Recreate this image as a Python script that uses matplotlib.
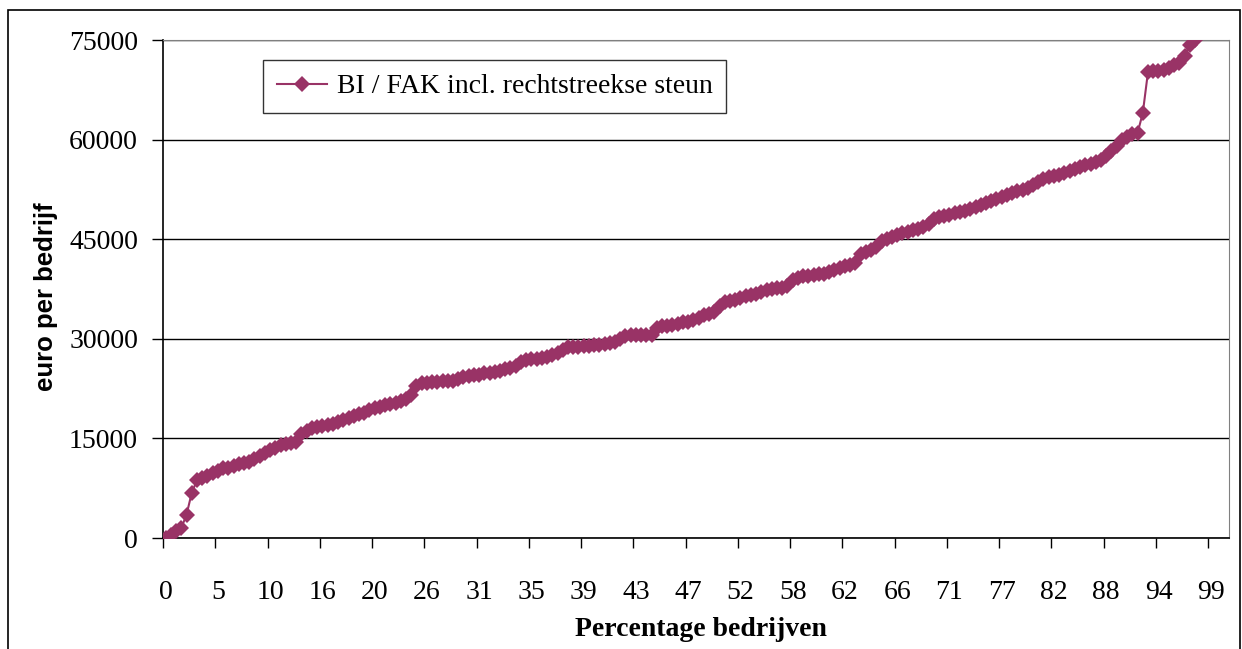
import matplotlib
matplotlib.use('Agg')
import matplotlib.pyplot as plt
from matplotlib.patches import Rectangle

# waarden (euro per bedrijf), gesorteerd
waarden = [
    0, 500, 1000, 1500, 3500, 6800, 8700, 9000, 9400, 9800,
    10100, 10500, 10600, 10800, 11100, 11300, 11500, 11900, 12400, 12800,
    13200, 13500, 14000, 14100, 14300, 14400, 15700, 16100, 16500, 16700,
    16800, 17000, 17200, 17400, 17800, 18100, 18300, 18600, 18900, 19300,
    19600, 19800, 20000, 20200, 20400, 20700, 20900, 21500, 22900, 23300,
    23400, 23500, 23500, 23600, 23600, 23700, 23900, 24200, 24400, 24500,
    24600, 24800, 24900, 25000, 25200, 25400, 25600, 25900, 26500, 26800,
    26900, 27000, 27100, 27300, 27600, 27900, 28300, 28700, 28800, 28800,
    28900, 28900, 29000, 29100, 29200, 29300, 29500, 30000, 30400, 30500,
    30500, 30500, 30600, 30600, 31700, 31900, 32000, 32100, 32300, 32500,
    32600, 32900, 33200, 33600, 33800, 34000, 35000, 35500, 35700, 35900,
    36100, 36400, 36600, 36800, 37100, 37400, 37500, 37600, 37700, 38000,
    38800, 39200, 39400, 39500, 39600, 39700, 39800, 40000, 40300, 40700,
    40900, 41100, 41400, 42700, 43100, 43400, 43800, 44700, 45100, 45300,
    45600, 45900, 46100, 46400, 46600, 46800, 47300, 48000, 48300, 48500,
    48700, 48900, 49100, 49300, 49500, 49800, 50200, 50500, 50800, 51000,
    51300, 51700, 51900, 52200, 52400, 52700, 53200, 53600, 54100, 54300,
    54500, 54700, 55000, 55300, 55500, 55800, 56100, 56300, 56600, 57000,
    57600, 58300, 59000, 59900, 60400, 60800, 61000, 64000, 70200, 70300,
    70400, 70500, 70800, 71200, 71600, 72600, 74300, 75000,
]
n_categorieen = 204
x_labels = ['0', '5', '10', '16', '20', '26', '31', '35', '39', '43', '47',
            '52', '58', '62', '66', '71', '77', '82', '88', '94', '99']
label_stap = 10
y_ticks = [0, 15000, 30000, 45000, 60000, 75000]

W, H = 1242, 649
fig = plt.figure(figsize=(W / 100, H / 100), dpi=100)
ax = fig.add_axes([163 / W, 1 - 538 / H, (1229 - 163) / W, (538 - 40) / H])

kleur = '#993366'
serif = ['Liberation Serif', 'DejaVu Serif']

x = list(range(len(waarden)))
ax.plot(x, waarden, color=kleur, linewidth=1.5, marker='D', markersize=7.8,
        markeredgewidth=0, label='BI / FAK incl. rechtstreekse steun', zorder=3)

ax.set_xlim(-0.5, n_categorieen - 0.5)
ax.set_ylim(0, 75000)

# labels op categorieen, streepjes op de grenzen
pos = [i * label_stap for i in range(len(x_labels))]
ax.set_xticks(pos)
ax.set_xticklabels(x_labels, family=serif, fontsize=20)
ax.tick_params(axis='x', which='major', length=0, pad=30)
ax.set_xticks([p - 0.5 for p in pos], minor=True)
ax.tick_params(axis='x', which='minor', length=7, width=1, direction='out', color='black')

ax.set_yticks(y_ticks)
ax.set_yticklabels([str(v) for v in y_ticks], family=serif, fontsize=20)
ax.tick_params(axis='y', length=8, width=1, direction='out', pad=10)

ax.grid(axis='y', color='black', linewidth=1)
ax.set_axisbelow(True)
for s in ['top', 'right']:
    ax.spines[s].set_color('#808080')
for s in ['left', 'bottom']:
    ax.spines[s].set_color('black')
    ax.spines[s].set_linewidth(1.2)

ax.set_xlabel('Percentage bedrijven', family=serif, fontsize=20, fontweight='bold')
ax.xaxis.set_label_coords(0.505, -0.158)
ax.set_ylabel('euro per bedrijf', family=['Liberation Sans', 'DejaVu Sans'],
              fontsize=18.5, fontweight='bold', va='center')
ax.yaxis.set_label_coords(-0.11, 0.484)

leg = ax.legend(loc='upper left', bbox_to_anchor=((263 - 163) / 1066, (538 - 60) / 498),
                prop={'family': serif, 'size': 20}, frameon=True, fancybox=False,
                edgecolor='black', borderpad=0.5, handlelength=1.8, handletextpad=0.35,
                borderaxespad=0)
leg.get_frame().set_linewidth(1)

# rand om de hele grafiek
fig.patches.append(Rectangle((8 / W, -0.05), (1240 - 8) / W, 1.05 - 10 / H,
                             transform=fig.transFigure, fill=False,
                             edgecolor='black', linewidth=1.2))

plt.savefig('out.png', dpi=100)
